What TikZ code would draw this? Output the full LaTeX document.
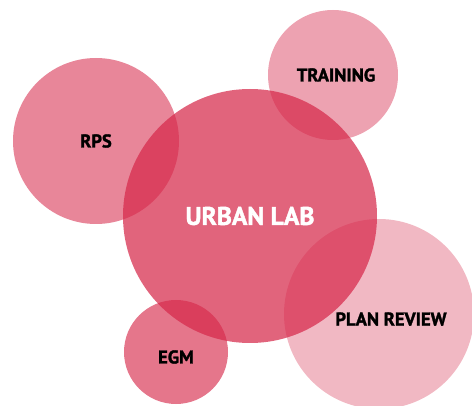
\documentclass[tikz,border=0pt]{standalone}
\usepackage{fontspec}
\setmainfont{PT Sans}[BoldFeatures={FakeBold=1.6}]
\definecolor{labred}{RGB}{214,40,74}

\begin{document}
\begin{tikzpicture}[x=1pt, y=1pt, tag/.style={font=\bfseries\fontsize{18.5}{18.5}\selectfont}, bubble/.style={circle, fill=labred, inner sep=0pt, text opacity=1, text=black, tag}]
\useasboundingbox (0,0) rectangle (472,405);
\clip (0,0) rectangle (472,405);
\node[bubble, minimum size=166pt, fill opacity=0.56] at (96,264) (rps) {RPS};
\node[bubble, minimum size=130pt, fill opacity=0.43] at (333,330) (training) {\hspace{6pt}TRAINING};
\node[bubble, minimum size=190pt, fill opacity=0.33] at (379,91) (review) {};
\node[bubble, minimum size=254pt, fill opacity=0.72, text=white, font=\bfseries\fontsize{25.5}{25.5}\selectfont] at (250,189) (lab) {URBAN LAB};
\node[bubble, minimum size=104pt, fill opacity=0.64, label={[tag, yshift=-5pt]center:EGM}] at (176,53) (egm) {};
\node[tag] at (391,86) (reviewtext) {PLAN REVIEW};
\end{tikzpicture}
\end{document}
